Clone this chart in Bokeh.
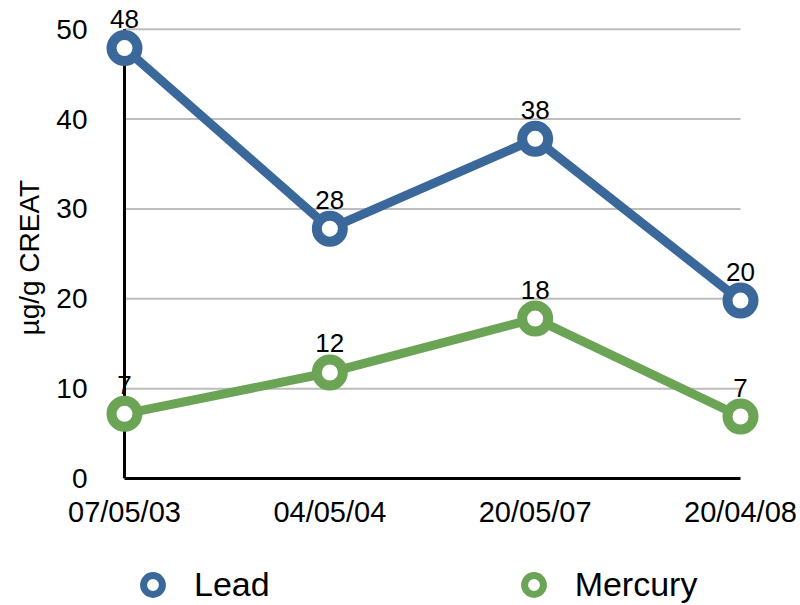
from bokeh.plotting import figure
from bokeh.layouts import column
from bokeh.models import (ColumnDataSource, FixedTicker, LabelSet, Legend, LegendItem,
                          Range1d, Title)
from bokeh.embed import file_html
from bokeh.resources import INLINE
from bokeh.core.properties import value

# ---- data ----
dates = ["07/05/03", "04/05/04", "20/05/07", "20/04/08"]
lead = [47.9, 27.8, 37.8, 19.8]
mercury = [7.2, 11.8, 17.8, 6.9]
y_ticks = [0, 10, 20, 30, 40, 50]
series_names = ["Lead", "Mercury"]
series_colors = ["#3A689B", "#6AA454"]
y_label = "µg/g CREAT"

FONT = "Liberation Sans"
xs = list(range(len(dates)))

p = figure(width=800, height=540, output_backend="svg", toolbar_location=None,
           x_range=Range1d(-0.0974, 3.0974), y_range=Range1d(0, 53.2),
           min_border_left=104, min_border_right=40, min_border_top=0,
           min_border_bottom=62)
p.outline_line_color = None
p.xgrid.visible = False
p.ygrid.visible = False

# gridlines and the vertical axis line
grid_vals = y_ticks[1:]
p.segment(x0=[xs[0]] * len(grid_vals), x1=[xs[-1]] * len(grid_vals),
          y0=grid_vals, y1=grid_vals, line_color="#BDBDBD", line_width=2)
p.segment(x0=[xs[0]], x1=[xs[0]], y0=[y_ticks[0]], y1=[y_ticks[-1]],
          line_color="black", line_width=3)

# legend figure (below the chart)
lf = figure(width=800, height=65, output_backend="svg", toolbar_location=None,
            x_range=Range1d(0, 1), y_range=Range1d(0, 1),
            min_border_left=0, min_border_right=0, min_border_top=0, min_border_bottom=0)
lf.outline_line_color = None
lf.xaxis.visible = False
lf.yaxis.visible = False
lf.xgrid.visible = False
lf.ygrid.visible = False

legend_items = []
for name, vals, col in zip(series_names, [lead, mercury], series_colors):
    src = ColumnDataSource(dict(x=xs, y=vals, label=[str(round(v)) for v in vals]))
    p.line("x", "y", source=src, line_color=col, line_width=9, line_join="round")
    p.scatter("x", "y", source=src, marker="circle", size=26, fill_color="white",
              line_color=col, line_width=10)
    p.add_layout(LabelSet(x="x", y="y", text="label", source=src, text_align="center",
                          text_baseline="middle", y_offset=29, text_font=value(FONT),
                          text_font_size="26px", text_color="black"))
    dummy = lf.scatter(x=[float("nan")], y=[float("nan")], marker="circle", size=19,
                       fill_color="white", line_color=col, line_width=7)
    legend_items.append(LegendItem(label=name, renderers=[dummy]))

# axes
xa = p.xaxis[0]
xa.ticker = FixedTicker(ticks=xs)
xa.major_label_overrides = {i: d for i, d in zip(xs, dates)}
xa.bounds = (xs[0], xs[-1])
xa.axis_line_width = 3
xa.axis_line_color = "black"
xa.major_tick_line_color = None
xa.minor_tick_line_color = None
xa.major_tick_out = 0
xa.major_tick_in = 0
xa.major_label_standoff = 17
xa.major_label_text_font = FONT
xa.major_label_text_font_size = "29px"
xa.major_label_text_color = "black"

ya = p.yaxis[0]
ya.ticker = FixedTicker(ticks=y_ticks)
ya.axis_line_color = None
ya.major_tick_line_color = None
ya.minor_tick_line_color = None
ya.major_tick_out = 0
ya.major_tick_in = 0
ya.major_label_standoff = 17
ya.major_label_text_font = FONT
ya.major_label_text_font_size = "28px"
ya.major_label_text_color = "black"

p.add_layout(Title(text=y_label, align="left", offset=143, standoff=18,
                   text_font=FONT, text_font_size="28px", text_font_style="normal",
                   text_color="black"), "left")

legend = Legend(items=legend_items, location=(25, -3), orientation="horizontal",
                glyph_width=47, glyph_height=47, label_standoff=18, spacing=240,
                padding=0, margin=0, border_line_color=None, background_fill_alpha=0,
                label_text_font=FONT, label_text_font_size="34px",
                label_text_color="black")
lf.add_layout(legend)

open("out.html", "w").write(file_html(column(p, lf, spacing=0), INLINE))
